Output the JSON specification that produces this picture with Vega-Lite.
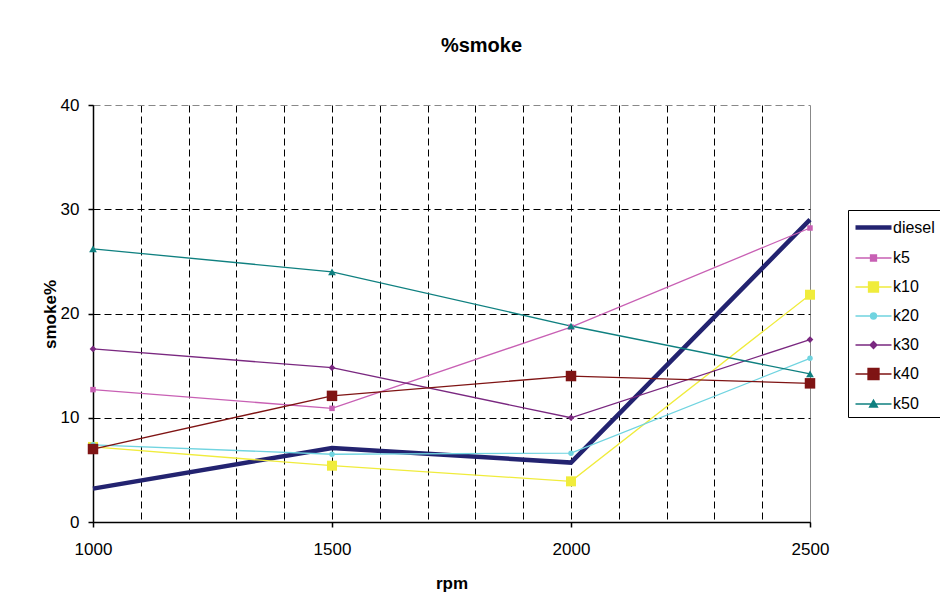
{
  "$schema": "https://vega.github.io/schema/vega-lite/v6.json",
  "width": 717,
  "height": 417,
  "autosize": {"type": "none"},
  "padding": {"left": 93, "top": 105, "right": 130, "bottom": 87},
  "background": "white",
  "config": {
    "view": {"stroke": null},
    "font": "Liberation Sans",
    "axis": {
      "labelFont": "Liberation Sans",
      "labelFontSize": 17,
      "labelColor": "black",
      "titleFont": "Liberation Sans",
      "titleFontSize": 17,
      "titleFontWeight": "bold",
      "titleColor": "black",
      "domainColor": "black",
      "domainWidth": 1.5,
      "tickColor": "black",
      "tickWidth": 1.5,
      "tickSize": 5,
      "gridColor": "black",
      "gridWidth": 1,
      "gridDash": [7, 4]
    }
  },
  "title": {
    "text": "%smoke",
    "font": "Liberation Sans",
    "fontSize": 20,
    "fontWeight": "bold",
    "color": "black",
    "anchor": "middle",
    "frame": "group",
    "dx": 30,
    "baseline": "alphabetic",
    "offset": 24
  },
  "data": {
    "values": [
      {"rpm": 1000, "series": "diesel", "smoke": 3.2},
      {"rpm": 1500, "series": "diesel", "smoke": 7.1},
      {"rpm": 2000, "series": "diesel", "smoke": 5.7},
      {"rpm": 2500, "series": "diesel", "smoke": 29.0},
      {"rpm": 1000, "series": "k5", "smoke": 12.7},
      {"rpm": 1500, "series": "k5", "smoke": 10.9},
      {"rpm": 2000, "series": "k5", "smoke": 18.7},
      {"rpm": 2500, "series": "k5", "smoke": 28.2},
      {"rpm": 1000, "series": "k10", "smoke": 7.2},
      {"rpm": 1500, "series": "k10", "smoke": 5.4},
      {"rpm": 2000, "series": "k10", "smoke": 3.9},
      {"rpm": 2500, "series": "k10", "smoke": 21.8},
      {"rpm": 1000, "series": "k20", "smoke": 7.4},
      {"rpm": 1500, "series": "k20", "smoke": 6.5},
      {"rpm": 2000, "series": "k20", "smoke": 6.6},
      {"rpm": 2500, "series": "k20", "smoke": 15.7},
      {"rpm": 1000, "series": "k30", "smoke": 16.6},
      {"rpm": 1500, "series": "k30", "smoke": 14.8},
      {"rpm": 2000, "series": "k30", "smoke": 10.0},
      {"rpm": 2500, "series": "k30", "smoke": 17.5},
      {"rpm": 1000, "series": "k40", "smoke": 7.0},
      {"rpm": 1500, "series": "k40", "smoke": 12.1},
      {"rpm": 2000, "series": "k40", "smoke": 14.0},
      {"rpm": 2500, "series": "k40", "smoke": 13.3},
      {"rpm": 1000, "series": "k50", "smoke": 26.2},
      {"rpm": 1500, "series": "k50", "smoke": 24.0},
      {"rpm": 2000, "series": "k50", "smoke": 18.8},
      {"rpm": 2500, "series": "k50", "smoke": 14.2}
    ]
  },
  "layer": [
    {
      "mark": {"type": "line", "clip": false},
      "encoding": {
        "x": {
          "field": "rpm",
          "type": "quantitative",
          "scale": {"domain": [1000, 2500], "nice": false, "zero": false},
          "axis": {
            "title": "rpm",
            "values": [1000, 1100, 1200, 1300, 1400, 1500, 1600, 1700, 1800, 1900, 2000, 2100, 2200, 2300, 2400, 2500],
            "format": "d",
            "labelExpr": "datum.value % 500 == 0 ? datum.label : ''",
            "tickOpacity": {"condition": {"test": "datum.value % 500 != 0", "value": 0}, "value": 1},
            "gridColor": {"condition": {"test": "datum.value == 2500", "value": "#888888"}, "value": "black"},
            "gridDash": {"condition": {"test": "datum.value == 2500", "value": []}, "value": [7, 4]},
            "labelPadding": 14,
            "labelFlush": false,
            "labelOverlap": false,
            "titleY": 66,
            "titleBaseline": "alphabetic"
          }
        },
        "y": {
          "field": "smoke",
          "type": "quantitative",
          "scale": {"domain": [0, 40], "nice": false},
          "axis": {
            "title": "smoke%",
            "values": [0, 10, 20, 30, 40],
            "labelPadding": 9,
            "gridColor": {"condition": {"test": "datum.value == 40", "value": "#888888"}, "value": "black"},
            "titleX": -38,
            "titleY": 209,
            "titleAngle": -90,
            "titleAlign": "center",
            "titleBaseline": "alphabetic"
          }
        },
        "color": {
          "field": "series",
          "type": "nominal",
          "scale": {
            "domain": ["diesel", "k5", "k10", "k20", "k30", "k40", "k50"],
            "range": ["#232370", "#C860B4", "#F0EC3C", "#70D4E0", "#7A2880", "#7F1414", "#0F8080"]
          },
          "legend": {
            "title": null,
            "orient": "none",
            "legendX": 755,
            "legendY": 105,
            "padding": 5,
            "strokeColor": "black",
            "fillColor": "white",
            "labelFont": "Liberation Sans",
            "labelFontSize": 16,
            "labelColor": "black",
            "labelOffset": 15,
            "symbolSize": 400,
            "rowPadding": 10,
            "labelLimit": 200,
            "encode": {
              "symbols": {
                "update": {
                  "shape": {"signal": "datum.value == 'diesel' ? 'M-1,0H2.6' : datum.value == 'k5' ? 'M-1,0H2.6M0.5,-0.3H1.1V0.3H0.5Z' : datum.value == 'k10' ? 'M-1,0H2.6M0.3,-0.5H1.3V0.5H0.3Z' : datum.value == 'k20' ? 'M-1,0H2.6M0.5,0A0.3,0.3 0 1,0 1.1,0A0.3,0.3 0 1,0 0.5,0Z' : datum.value == 'k30' ? 'M-1,0H2.6M0.8,-0.35L1.15,0L0.8,0.35L0.45,0Z' : datum.value == 'k40' ? 'M-1,0H2.6M0.25,-0.55H1.35V0.55H0.25Z' : 'M-1,0H2.6M0.8,-0.4L1.2,0.3H0.4Z'"},
                  "size": {"value": 400},
                  "fill": {"scale": "color", "field": "value"},
                  "stroke": {"scale": "color", "field": "value"},
                  "strokeWidth": {"signal": "datum.value == 'diesel' ? 4 : 1.5"},
                  "opacity": {"value": 1},
                  "fillOpacity": {"value": 1},
                  "strokeOpacity": {"value": 1}
                }
              }
            }
          }
        },
        "strokeWidth": {
          "field": "series",
          "type": "nominal",
          "scale": {
            "type": "ordinal",
            "domain": ["diesel", "k5", "k10", "k20", "k30", "k40", "k50"],
            "range": [4.5, 1.3, 1.3, 1.3, 1.3, 1.3, 1.3]
          },
          "legend": null
        }
      }
    },
    {
      "transform": [{"filter": "datum.series != 'diesel'"}],
      "mark": {"type": "point", "filled": true, "opacity": 1, "clip": false},
      "encoding": {
        "x": {"field": "rpm", "type": "quantitative"},
        "y": {"field": "smoke", "type": "quantitative"},
        "color": {"field": "series", "type": "nominal"},
        "shape": {
          "field": "series",
          "type": "nominal",
          "scale": {
            "domain": ["k5", "k10", "k20", "k30", "k40", "k50"],
            "range": ["square", "square", "circle", "diamond", "square", "triangle-up"]
          },
          "legend": null
        },
        "size": {
          "field": "series",
          "type": "nominal",
          "scale": {
            "type": "ordinal",
            "domain": ["k5", "k10", "k20", "k30", "k40", "k50"],
            "range": [30, 100, 30, 45, 110, 60]
          },
          "legend": null
        }
      }
    }
  ]
}
